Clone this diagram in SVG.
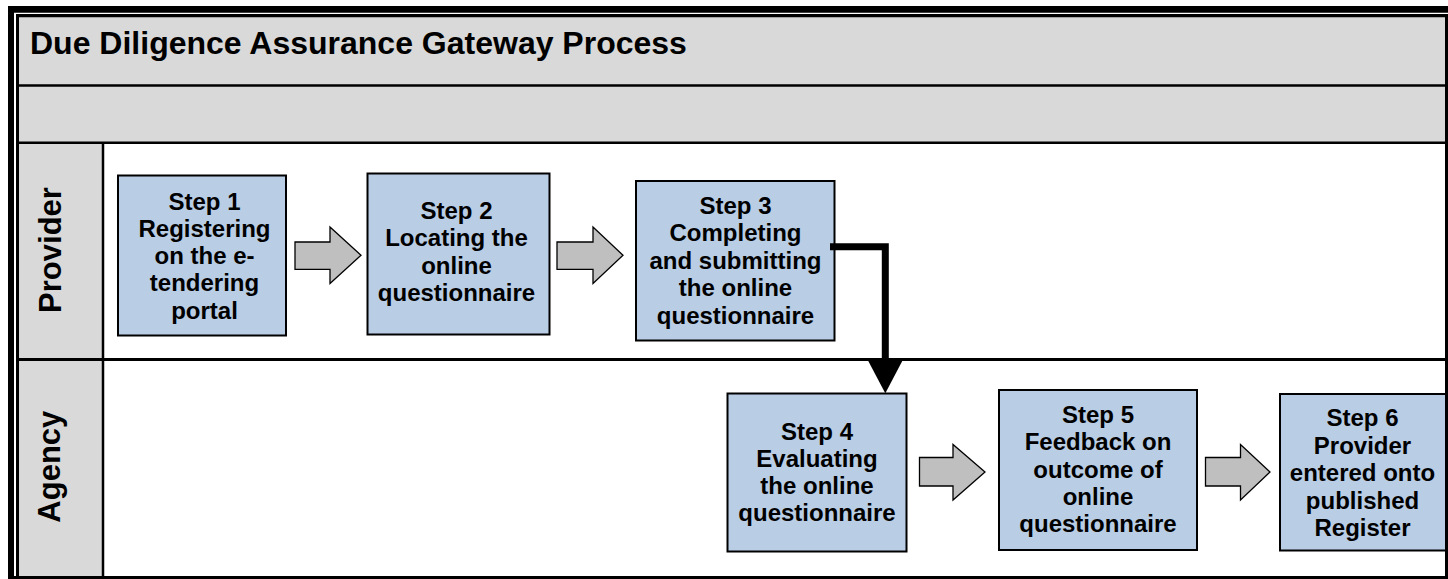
<svg xmlns="http://www.w3.org/2000/svg" width="1448" height="579" viewBox="0 0 1448 579">
<style>
.gray{fill:#D9D9D9;}
.frame{stroke:#000;fill:none;}
.box{fill:#B9CDE5;stroke:#000;stroke-width:2;}
.t{font-family:"Liberation Sans",Arial,sans-serif;font-weight:bold;font-size:24px;fill:#000;text-anchor:middle;}
.lane{font-family:"Liberation Sans",Arial,sans-serif;font-weight:bold;font-size:31px;fill:#000;text-anchor:middle;}
.title{font-family:"Liberation Sans",Arial,sans-serif;font-weight:bold;font-size:32px;fill:#000;}
.blk{fill:#BFBFBF;stroke:#000;stroke-width:1.3;stroke-linejoin:miter;}
.conn{fill:none;stroke:#000;stroke-width:7;stroke-linejoin:miter;stroke-linecap:butt;}
</style>
<defs>
<marker id="head" markerUnits="userSpaceOnUse" viewBox="0 0 33.3 35" markerWidth="33.3" markerHeight="35" refX="2" refY="17.5" orient="auto">
<path d="M0,0 L33.3,17.5 L0,35 Z" fill="#000"/>
</marker>
</defs>
<rect width="1448" height="579" fill="#fff"/>
<g id="pool">
<rect class="gray" x="19" y="17" width="1427" height="126"/>
<rect class="gray" x="19" y="143" width="84" height="434"/>
<line class="frame" x1="19" y1="85.5" x2="1446" y2="85.5" stroke-width="2.5"/>
<line class="frame" x1="19" y1="142.8" x2="1446" y2="142.8" stroke-width="2.5"/>
<line class="frame" x1="19" y1="359.5" x2="1446" y2="359.5" stroke-width="3"/>
<line class="frame" x1="103" y1="142.8" x2="103" y2="577" stroke-width="2.5"/>
<text class="title" x="30" y="53.5">Due Diligence Assurance Gateway Process</text>
</g>
<g id="lane-provider">
<text class="lane" transform="translate(60.5,250) rotate(-90)">Provider</text>
</g>
<g id="lane-agency">
<text class="lane" transform="translate(60,466.7) rotate(-90)">Agency</text>
</g>
<g id="step1">
<rect class="box" x="118" y="175.5" width="168" height="160"/>
<text class="t"><tspan x="204.5" y="209.5">Step 1</tspan><tspan x="204.5" y="236.8">Registering</tspan><tspan x="204.5" y="264">on the e-</tspan><tspan x="204.5" y="291.3">tendering</tspan><tspan x="204.5" y="318.5">portal</tspan></text>
</g>
<g id="step2">
<rect class="box" x="367.5" y="173.5" width="182" height="161"/>
<text class="t"><tspan x="456.5" y="218.5">Step 2</tspan><tspan x="456.5" y="246">Locating the</tspan><tspan x="456.5" y="273.5">online</tspan><tspan x="456.5" y="301">questionnaire</tspan></text>
</g>
<g id="step3">
<rect class="box" x="636" y="181" width="198.5" height="159.5"/>
<text class="t"><tspan x="735.5" y="213.5">Step 3</tspan><tspan x="735.5" y="241">Completing</tspan><tspan x="735.5" y="268.5">and submitting</tspan><tspan x="735.5" y="296">the online</tspan><tspan x="735.5" y="323.5">questionnaire</tspan></text>
</g>
<g id="step4">
<rect class="box" x="727.5" y="393.5" width="179" height="158"/>
<text class="t"><tspan x="817" y="439.5">Step 4</tspan><tspan x="817" y="466.5">Evaluating</tspan><tspan x="817" y="493.5">the online</tspan><tspan x="817" y="520.5">questionnaire</tspan></text>
</g>
<g id="step5">
<rect class="box" x="999" y="390" width="198" height="160"/>
<text class="t"><tspan x="1098" y="422.5">Step 5</tspan><tspan x="1098" y="450">Feedback on</tspan><tspan x="1098" y="477.5">outcome of</tspan><tspan x="1098" y="504.5">online</tspan><tspan x="1098" y="532">questionnaire</tspan></text>
</g>
<g id="step6">
<rect class="box" x="1280" y="394" width="172" height="156.5"/>
<text class="t"><tspan x="1362.5" y="426">Step 6</tspan><tspan x="1362.5" y="453.5">Provider</tspan><tspan x="1362.5" y="481">entered onto</tspan><tspan x="1362.5" y="508.5">published</tspan><tspan x="1362.5" y="536">Register</tspan></text>
</g>
<g id="connectors">
<polygon class="blk" points="295,242 330,242 330,227 361,255.3 330,283.5 330,269.3 295,269.3"/>
<polygon class="blk" points="557,242 593,242 593,227 623,255.3 593,283.5 593,269.3 557,269.3"/>
<polygon class="blk" points="919.5,457.5 953,457.5 953,444.5 985,472 953,500 953,486 919.5,486"/>
<polygon class="blk" points="1205.5,457.5 1240.5,457.5 1240.5,444.5 1270,472 1240.5,500 1240.5,486 1205.5,486"/>
<path class="conn" d="M830,246.7 H885.3 V362" marker-end="url(#head)"/>
</g>
<g id="border">
<line class="frame" x1="8" y1="9.3" x2="1448" y2="9.3" stroke-width="6.7"/>
<line class="frame" x1="11" y1="6" x2="11" y2="579" stroke-width="6"/>
<line class="frame" x1="16" y1="15.7" x2="1448" y2="15.7" stroke-width="3.3"/>
<line class="frame" x1="17.5" y1="14" x2="17.5" y2="579" stroke-width="3"/>
<line class="frame" x1="1446.5" y1="14" x2="1446.5" y2="579" stroke-width="3"/>
<line class="frame" x1="8" y1="577.5" x2="1448" y2="577.5" stroke-width="3"/>
</g>
</svg>
